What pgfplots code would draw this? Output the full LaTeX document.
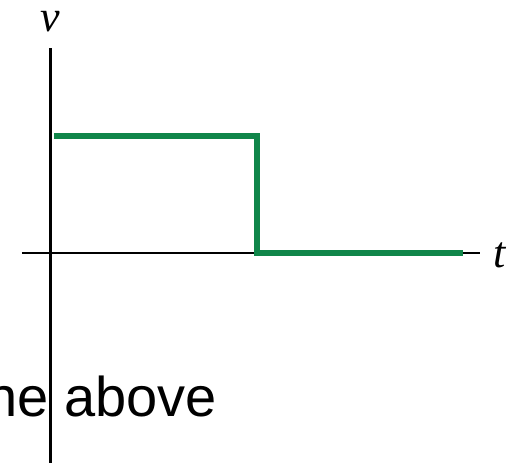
\documentclass[border=0pt]{standalone}
\usepackage{pgfplots}
\pgfplotsset{compat=1.18}
\usepackage{fontspec}
\setmainfont{Liberation Serif}
\newfontfamily\arial{Liberation Sans}
\definecolor{vgreen}{RGB}{16,134,74}
\begin{document}
\begin{tikzpicture}[x=0.75pt,y=0.75pt]
\useasboundingbox (0,0) rectangle (521,466);
\clip (0,0) rectangle (521,466);
\begin{axis}[
  at={(0,0)}, anchor=south west,
  scale only axis, width=390.75pt, height=349.5pt,
  xmin=0, xmax=521, ymin=0, ymax=466,
  axis lines=none, clip=false,
]
\node[anchor=base east, inner sep=0pt, font=\arial\fontsize{42}{50}\selectfont] at (axis cs:217,49) {None of the above};
\draw[black, line width=1.9pt] (axis cs:50.5,3) -- (axis cs:50.5,418);
\draw[black, line width=1.9pt] (axis cs:22,213) -- (axis cs:480,213);
\addplot[vgreen, line width=3.8pt, line join=miter] coordinates {(54,330) (257,330) (257,213) (463,213)};
\node[inner sep=0pt, font=\fontsize{33}{40}\selectfont\itshape] at (axis cs:50,444) {v};
\node[inner sep=0pt, font=\fontsize{33}{40}\selectfont\itshape] at (axis cs:500,211) {t};
\end{axis}
\end{tikzpicture}
\end{document}
